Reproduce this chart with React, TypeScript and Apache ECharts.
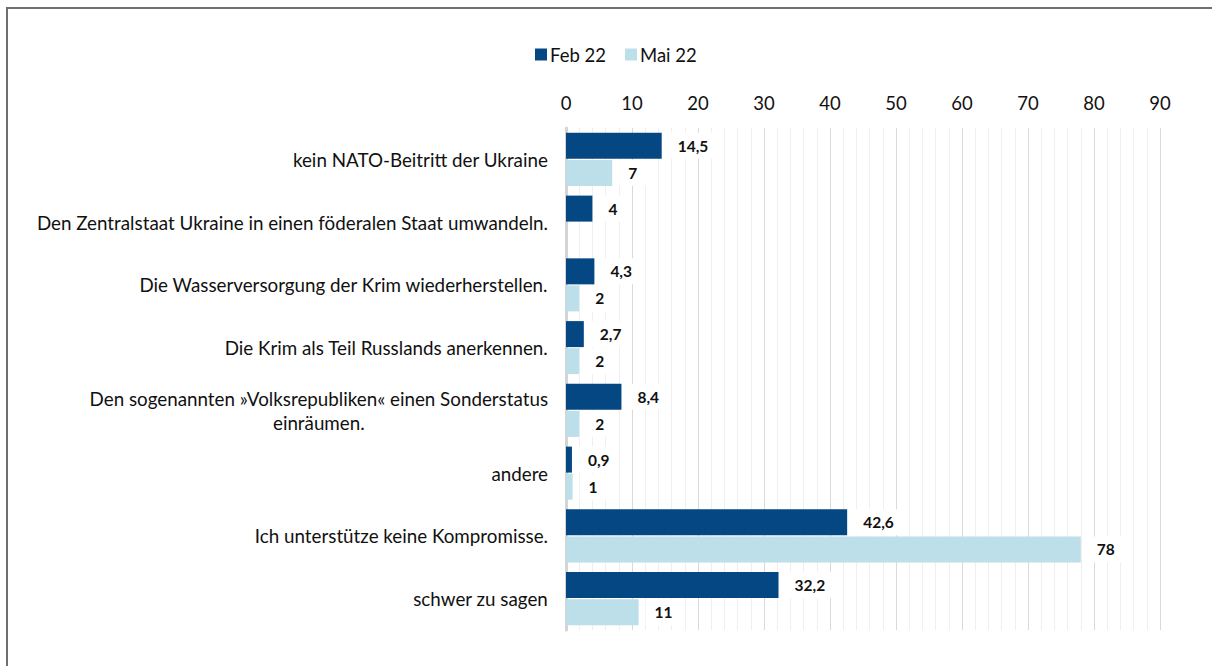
import React, { useEffect, useRef } from "react";
import * as echarts from "echarts";

const categories = [
  "kein NATO-Beitritt der Ukraine",
  "Den Zentralstaat Ukraine in einen föderalen Staat umwandeln.",
  "Die Wasserversorgung der Krim wiederherstellen.",
  "Die Krim als Teil Russlands anerkennen.",
  "Den sogenannten »Volksrepubliken« einen Sonderstatus\neinräumen.",
  "andere",
  "Ich unterstütze keine Kompromisse.",
  "schwer zu sagen",
];
const feb22 = [14.5, 4, 4.3, 2.7, 8.4, 0.9, 42.6, 32.2];
const mai22 = [7, null, 2, 2, 2, 1, 78, 11];
const seriesNames = ["Feb 22", "Mai 22"];

const FONT = "Lato";

export default function App() {
  const ref = useRef<HTMLDivElement>(null);
  useEffect(() => {
    const chart = echarts.init(ref.current!, null, { renderer: "svg" });
    const labelOpt = {
      show: true,
      position: "right",
      distance: 7,
      color: "#111",
      fontFamily: FONT,
      fontWeight: "bold",
      fontSize: 15.5,
      backgroundColor: "#fff",
      padding: [5, 9, 5, 9],
      formatter: (p: any) => String(p.value).replace(".", ","),
    };
    chart.setOption({
      animation: false,
      textStyle: { fontFamily: FONT },
      graphic: [
        {
          type: "rect",
          shape: { x: 7, y: 8, width: 1400, height: 900 },
          style: { fill: "none", stroke: "#6f6f6f", lineWidth: 2 },
          silent: true,
        },
      ],
      legend: {
        data: seriesNames,
        left: 530,
        top: 40,
        icon: "rect",
        itemWidth: 12,
        itemHeight: 12,
        itemGap: 19,
        textStyle: { fontFamily: FONT, fontSize: 18.5, color: "#111", padding: [0, 0, 0, -2] },
      },
      grid: { left: 566, right: 52, top: 128, bottom: 36, containLabel: false },
      xAxis: {
        type: "value",
        position: "top",
        min: 0,
        max: 90,
        interval: 10,
        axisLine: { show: false },
        axisTick: { show: false },
        axisLabel: { fontFamily: FONT, fontSize: 18.5, color: "#111", margin: 16 },
        splitLine: { show: true, lineStyle: { color: "#d9d9d9", width: 1 } },
        minorTick: { show: false, splitNumber: 5 },
        minorSplitLine: { show: true, lineStyle: { color: "#efefef", width: 1 } },
      },
      yAxis: {
        type: "category",
        inverse: true,
        data: categories,
        axisLine: { show: true, lineStyle: { color: "#d4d4d4", width: 3 } },
        axisTick: { show: false },
        axisLabel: {
          fontFamily: FONT,
          fontSize: 18.8,
          color: "#111",
          margin: 18,
          lineHeight: 24,
          formatter: (v: string) =>
            v
              .split("\n")
              .map((l) => "{c|" + l + "}")
              .join("\n"),
          rich: {
            c: { align: "center", fontFamily: FONT, fontSize: 18.8, color: "#111", lineHeight: 24 },
          },
        },
      },
      series: [
        {
          name: seriesNames[0],
          type: "bar",
          data: feb22,
          barWidth: 26,
          barGap: "4%",
          itemStyle: { color: "#044783" },
          label: labelOpt,
          z: 3,
        },
        {
          name: seriesNames[1],
          type: "bar",
          data: mai22,
          barWidth: 26,
          itemStyle: { color: "#bcdfea" },
          label: labelOpt,
          z: 2,
        },
      ],
    });
    return () => chart.dispose();
  }, []);
  return (
    <div
      ref={ref}
      style={{ position: "absolute", left: 0, top: 0, width: 1212, height: 666, background: "#fff" }}
    />
  );
}
